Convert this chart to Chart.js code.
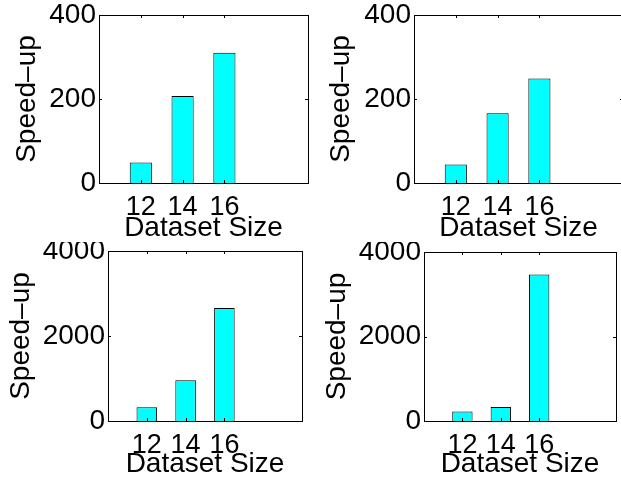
<!DOCTYPE html>
<html>
<head>
<meta charset="utf-8">
<script src="https://cdn.jsdelivr.net/npm/chart.js@4"></script>
<style>
  html, body { margin: 0; padding: 0; background: #fff; overflow: hidden; }
  body { width: 621px; height: 485px; position: relative; }
  canvas { position: absolute; }
</style>
</head>
<body>
<canvas id="c1" style="left:0px;top:0px" width="310" height="245"></canvas>
<canvas id="c2" style="left:310px;top:0px" width="313" height="245"></canvas>
<canvas id="c3" style="left:0px;top:242px" width="310" height="243"></canvas>
<canvas id="c4" style="left:310px;top:242px" width="311" height="243"></canvas>
<script>
// Data
const sizes = [12, 14, 16];
const speedupA = [49, 207, 310];
const speedupB = [44, 166, 249];
const speedupC = [322, 957, 2660];
const speedupD = [222, 331, 3470];
const yTicksSmall = [0, 200, 400];
const yTicksLarge = [0, 2000, 4000];
const xRange = [10, 20];

const FONT = 'Liberation Sans, Arial, Helvetica, sans-serif';

// MATLAB style box with inward ticks
const boxPlugin = {
  id: 'box',
  afterDatasetsDraw(chart) {
    const { ctx, chartArea: a, scales } = chart;
    ctx.save();
    ctx.strokeStyle = '#000';
    ctx.lineWidth = 1;
    const tl = 3;
    ctx.beginPath();
    scales.x.ticks.forEach(t => {
      const px = Math.round(scales.x.getPixelForValue(t.value)) + 0.5;
      ctx.moveTo(px, a.top); ctx.lineTo(px, a.top + tl);
      ctx.moveTo(px, a.bottom); ctx.lineTo(px, a.bottom - tl);
    });
    scales.y.ticks.forEach(t => {
      const py = Math.round(scales.y.getPixelForValue(t.value)) + 0.5;
      ctx.moveTo(a.left, py); ctx.lineTo(a.left + tl, py);
      ctx.moveTo(a.right, py); ctx.lineTo(a.right - tl, py);
    });
    ctx.stroke();
    ctx.strokeRect(Math.round(a.left) + 0.5, Math.round(a.top) + 0.5,
      Math.round(a.right - a.left), Math.round(a.bottom - a.top));
    ctx.restore();
  }
};

function makePanel(id, values, yTicks, lay) {
  new Chart(document.getElementById(id), {
    type: 'bar',
    data: {
      datasets: [{
        data: sizes.map((s, i) => ({ x: s, y: values[i] })),
        backgroundColor: '#00ffff',
        borderColor: '#000',
        borderWidth: 1,
        categoryPercentage: 1,
        barPercentage: 0.53
      }]
    },
    options: {
      responsive: false,
      animation: false,
      devicePixelRatio: 1,
      layout: { padding: lay.padding },
      plugins: { legend: { display: false }, tooltip: { enabled: false } },
      scales: {
        x: {
          type: 'linear',
          min: xRange[0],
          max: xRange[1],
          offset: false,
          grid: { display: false, drawTicks: false },
          border: { display: false },
          afterBuildTicks: s => { s.ticks = sizes.map(v => ({ value: v })); },
          afterFit: s => { s.height = lay.xHeight; s.paddingLeft = 0; s.paddingRight = 0; },
          ticks: { color: '#000', font: { family: FONT, size: 27 }, padding: 8, maxRotation: 0, callback: v => String(v) },
          title: { display: true, text: 'Dataset Size', color: '#000', font: { family: FONT, size: 28 }, padding: { top: 0, bottom: 0 } }
        },
        y: {
          min: yTicks[0],
          max: yTicks[yTicks.length - 1],
          grid: { display: false, drawTicks: false },
          border: { display: false },
          afterBuildTicks: s => { s.ticks = yTicks.map(v => ({ value: v })); },
          afterFit: s => { s.width = lay.yWidth; s.paddingTop = 0; s.paddingBottom = 0; },
          ticks: { color: '#000', font: { family: FONT, size: 28 }, padding: 3, callback: v => String(v) },
          title: { display: true, text: 'Speed–up', color: '#000', font: { family: FONT, size: 28 }, padding: { top: 0, bottom: 0 } }
        }
      }
    },
    plugins: [boxPlugin]
  });
}

makePanel('c1', speedupA, yTicksSmall, { padding: { left: 10, top: 15, right: 2, bottom: 0 }, yWidth: 89, xHeight: 62 });
makePanel('c2', speedupB, yTicksSmall, { padding: { left: 14, top: 15, right: 0, bottom: 0 }, yWidth: 90, xHeight: 62 });
makePanel('c3', speedupC, yTicksLarge, { padding: { left: 4, top: 9, right: 8, bottom: 4 }, yWidth: 104, xHeight: 60 });
makePanel('c4', speedupD, yTicksLarge, { padding: { left: 10, top: 10, right: 5, bottom: 4 }, yWidth: 104, xHeight: 60 });
</script>
</body>
</html>
